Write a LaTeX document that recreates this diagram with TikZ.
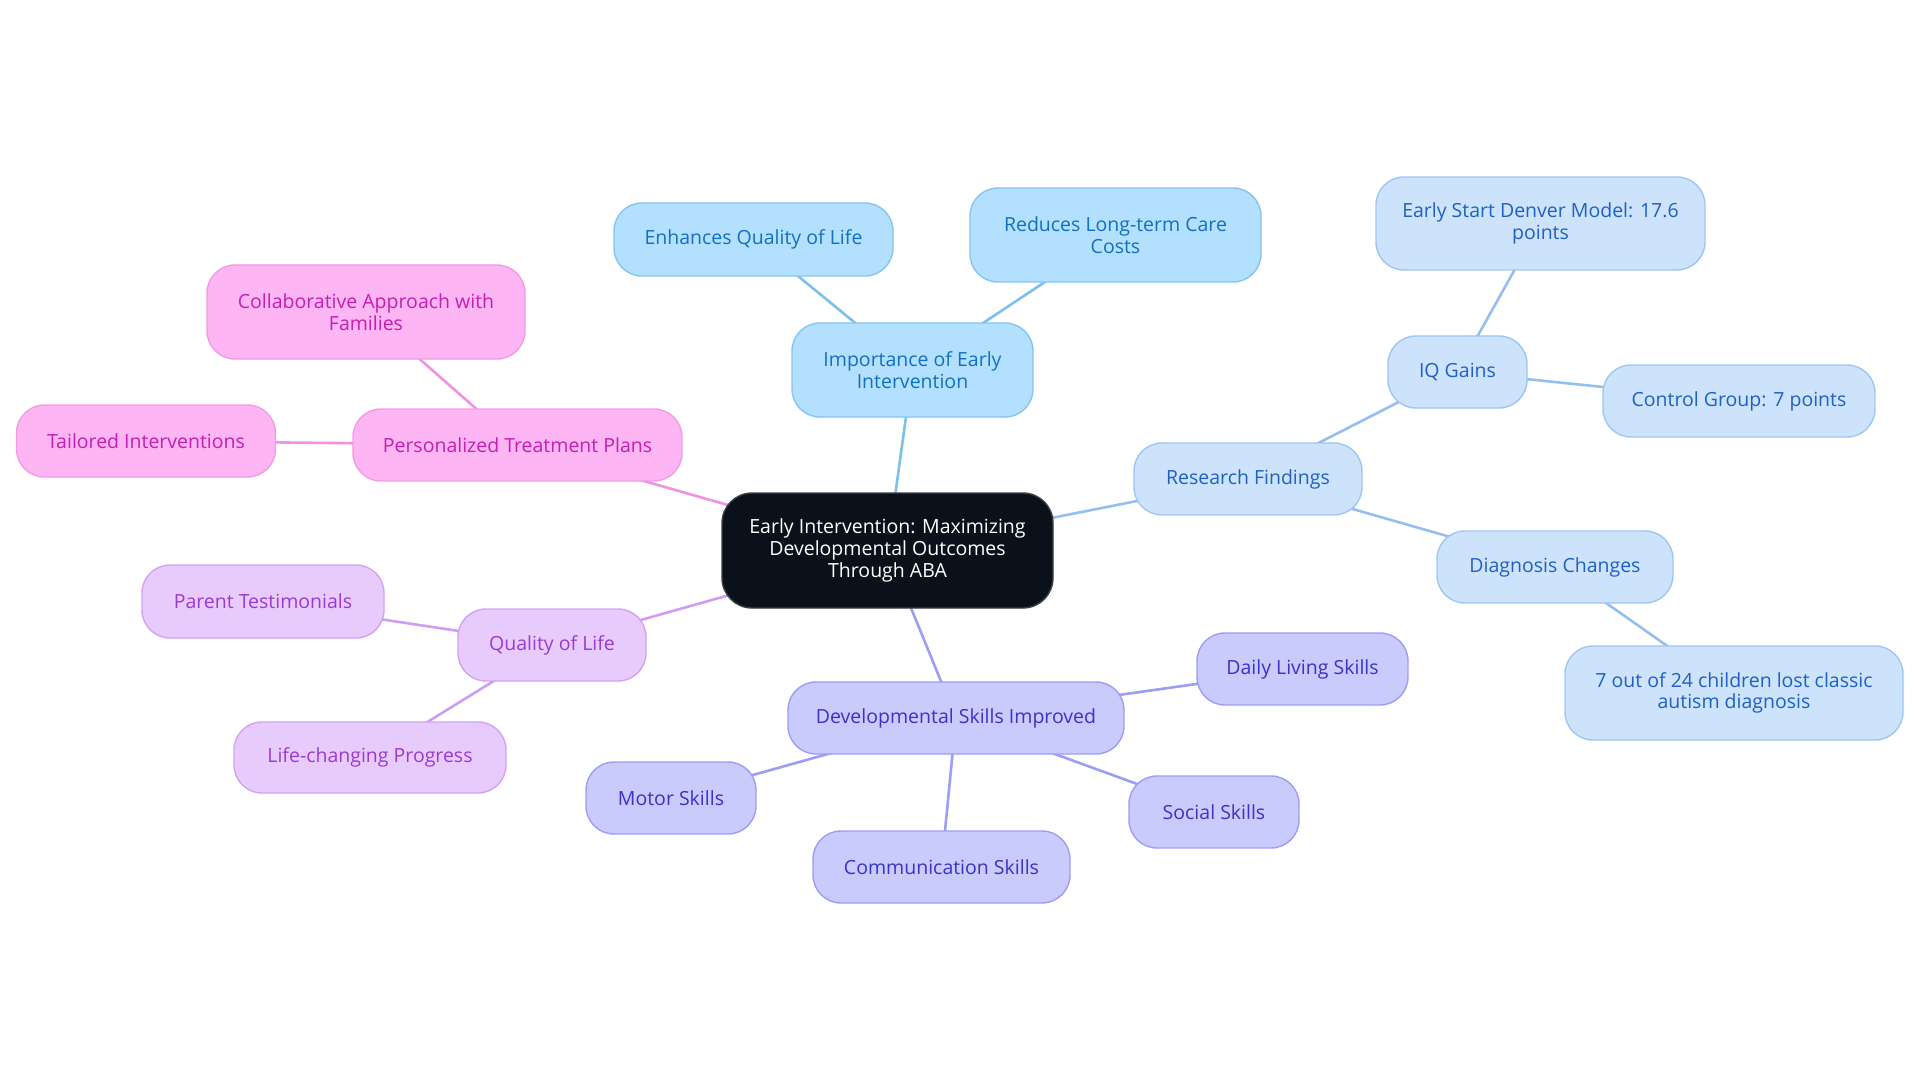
\documentclass[tikz,border=0pt]{standalone}
\usepackage{fontspec}
\setmainfont{Open Sans}
\usetikzlibrary{backgrounds}
\definecolor{fA}{HTML}{B3E0FE}\definecolor{dA}{HTML}{84C5F4}\definecolor{tA}{HTML}{1270C4}\definecolor{eA}{HTML}{7DC0F0}
\definecolor{fR}{HTML}{CDE3FB}\definecolor{dR}{HTML}{9EC6F3}\definecolor{tR}{HTML}{1F60C6}\definecolor{eR}{HTML}{94BFF0}
\definecolor{fD}{HTML}{C9CBFD}\definecolor{dD}{HTML}{9C9EF5}\definecolor{tD}{HTML}{3833C9}\definecolor{eD}{HTML}{9C9EF6}
\definecolor{fQ}{HTML}{E8CBFD}\definecolor{dQ}{HTML}{D3A2F6}\definecolor{tQ}{HTML}{9A3AD6}\definecolor{eQ}{HTML}{D09DF3}
\definecolor{fP}{HTML}{FDB5F3}\definecolor{dP}{HTML}{F39CE6}\definecolor{tP}{HTML}{C81DB3}\definecolor{eP}{HTML}{F092E1}
\definecolor{fC}{HTML}{0B111B}\definecolor{dC}{HTML}{3A3F48}
\begin{document}
\begin{tikzpicture}[x=1pt,y=-1pt,
  mm/.style={draw, rounded corners=28pt, line width=1.4pt, align=center, inner sep=0pt,
    font=\fontsize{19.5}{21.7}\selectfont},
  bA/.style={mm, fill=fA, draw=dA, text=tA},
  bR/.style={mm, fill=fR, draw=dR, text=tR},
  bD/.style={mm, fill=fD, draw=dD, text=tD},
  bQ/.style={mm, fill=fQ, draw=dQ, text=tQ},
  bP/.style={mm, fill=fP, draw=dP, text=tP},
  bC/.style={mm, rounded corners=30pt, fill=fC, draw=dC, text=white},
  wh/.style 2 args={minimum width=#1pt, minimum height=#2pt},
  ln/.style={line width=2.6pt, draw=#1}]
\useasboundingbox (0,0) rectangle (1920,1083);
\node[bC, wh={331}{115}] (center) at (887.5,550.5) {Early Intervention: Maximizing\\Developmental Outcomes\\Through ABA};
\node[bA, wh={241}{94}] (imp) at (912.5,370) {Importance of Early\\Intervention};
\node[bA, wh={279}{73}] (enh) at (753.5,239.5) {Enhances Quality of Life};
\node[bA, wh={291}{94}] (red) at (1115.5,235) {Reduces Long-term Care\\Costs};
\node[bR, wh={228}{72}] (res) at (1248,479) {Research Findings};
\node[bR, wh={139}{72}] (iq) at (1457.5,372) {IQ Gains};
\node[bR, wh={329}{93}] (esdm) at (1540.5,223.5) {Early Start Denver Model: 17.6\\points};
\node[bR, wh={272}{72}] (ctrl) at (1739,401) {Control Group: 7 points};
\node[bR, wh={236}{72}] (diag) at (1555,567) {Diagnosis Changes};
\node[bR, wh={338}{94}] (seven) at (1734,693) {7 out of 24 children lost classic\\autism diagnosis};
\node[bD, wh={336}{72}] (dev) at (956,718) {Developmental Skills Improved};
\node[bD, wh={211}{72}] (daily) at (1302.5,669) {Daily Living Skills};
\node[bD, wh={170}{72}] (social) at (1214,812) {Social Skills};
\node[bD, wh={257}{72}] (comm) at (941.5,867) {Communication Skills};
\node[bD, wh={170}{72}] (motor) at (671,798) {Motor Skills};
\node[bQ, wh={188}{72}] (qol) at (552,645) {Quality of Life};
\node[bQ, wh={242}{73}] (parent) at (263,601.5) {Parent Testimonials};
\node[bQ, wh={272}{71}] (life) at (370,757.5) {Life-changing Progress};
\node[bP, wh={329}{72}] (pers) at (517.5,445) {Personalized Treatment Plans};
\node[bP, wh={318}{94}] (collab) at (366,312) {Collaborative Approach with\\Families};
\node[bP, wh={259}{72}] (tail) at (146,441) {Tailored Interventions};
\begin{scope}[on background layer]
\fill[white] (0,0) rectangle (1920,1083);
\draw[ln=eA] (center.center) -- (imp.center);
\draw[ln=eA] (imp.center) -- (enh.center);
\draw[ln=eA] (imp.center) -- (red.center);
\draw[ln=eR] (center.center) -- (res.center);
\draw[ln=eR] (res.center) -- (iq.center);
\draw[ln=eR] (iq.center) -- (esdm.center);
\draw[ln=eR] (iq.center) -- (ctrl.center);
\draw[ln=eR] (res.center) -- (diag.center);
\draw[ln=eR] (diag.center) -- (seven.center);
\draw[ln=eD] (center.center) -- (dev.center);
\draw[ln=eD] (dev.center) -- (daily.center);
\draw[ln=eD] (dev.center) -- (social.center);
\draw[ln=eD] (dev.center) -- (comm.center);
\draw[ln=eD] (dev.center) -- (motor.center);
\draw[ln=eQ] (center.center) -- (qol.center);
\draw[ln=eQ] (qol.center) -- (parent.center);
\draw[ln=eQ] (qol.center) -- (life.center);
\draw[ln=eP] (center.center) -- (pers.center);
\draw[ln=eP] (pers.center) -- (collab.center);
\draw[ln=eP] (pers.center) -- (tail.center);
\end{scope}
\end{tikzpicture}
\end{document}
